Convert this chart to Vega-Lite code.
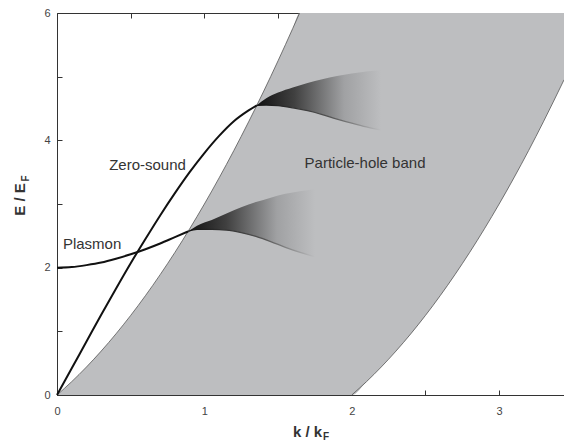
{
  "$schema": "https://vega.github.io/schema/vega-lite/v6.json",
  "width": 507,
  "height": 382,
  "autosize": "none",
  "padding": {"left": 57, "top": 13, "right": 0, "bottom": 50},
  "background": "white",
  "config": {
    "view": {"stroke": null},
    "font": "Liberation Sans",
    "axis": {
      "domainColor": "#333",
      "domainWidth": 1,
      "tickColor": "#333",
      "tickWidth": 1,
      "labelColor": "#444",
      "labelFontSize": 11,
      "labelFont": "Liberation Sans",
      "titleFont": "Liberation Sans",
      "titleColor": "#333",
      "titleFontSize": 15,
      "titleFontWeight": "bold",
      "grid": false,
      "zindex": 1
    }
  },
  "datasets": {
    "band": [
      {"k": 0, "hi": 0, "lo": 0},
      {"k": 0.1, "hi": 0.21, "lo": 0},
      {"k": 0.2, "hi": 0.44, "lo": 0},
      {"k": 0.3, "hi": 0.69, "lo": 0},
      {"k": 0.4, "hi": 0.96, "lo": 0},
      {"k": 0.5, "hi": 1.25, "lo": 0},
      {"k": 0.6, "hi": 1.56, "lo": 0},
      {"k": 0.7, "hi": 1.89, "lo": 0},
      {"k": 0.8, "hi": 2.24, "lo": 0},
      {"k": 0.9, "hi": 2.61, "lo": 0},
      {"k": 1.0, "hi": 3.0, "lo": 0},
      {"k": 1.1, "hi": 3.41, "lo": 0},
      {"k": 1.2, "hi": 3.84, "lo": 0},
      {"k": 1.3, "hi": 4.29, "lo": 0},
      {"k": 1.4, "hi": 4.76, "lo": 0},
      {"k": 1.5, "hi": 5.25, "lo": 0},
      {"k": 1.6, "hi": 5.76, "lo": 0},
      {"k": 1.646, "hi": 6, "lo": 0},
      {"k": 2.0, "hi": 6, "lo": 0},
      {"k": 2.1, "hi": 6, "lo": 0.21},
      {"k": 2.2, "hi": 6, "lo": 0.44},
      {"k": 2.3, "hi": 6, "lo": 0.69},
      {"k": 2.4, "hi": 6, "lo": 0.96},
      {"k": 2.5, "hi": 6, "lo": 1.25},
      {"k": 2.6, "hi": 6, "lo": 1.56},
      {"k": 2.7, "hi": 6, "lo": 1.89},
      {"k": 2.8, "hi": 6, "lo": 2.24},
      {"k": 2.9, "hi": 6, "lo": 2.61},
      {"k": 3.0, "hi": 6, "lo": 3.0},
      {"k": 3.1, "hi": 6, "lo": 3.41},
      {"k": 3.2, "hi": 6, "lo": 3.84},
      {"k": 3.3, "hi": 6, "lo": 4.29},
      {"k": 3.44, "hi": 6, "lo": 4.95}
    ],
    "edges": [
      {"part": "upper", "k": 0, "E": 0},
      {"part": "upper", "k": 0.1, "E": 0.21},
      {"part": "upper", "k": 0.2, "E": 0.44},
      {"part": "upper", "k": 0.3, "E": 0.69},
      {"part": "upper", "k": 0.4, "E": 0.96},
      {"part": "upper", "k": 0.5, "E": 1.25},
      {"part": "upper", "k": 0.6, "E": 1.56},
      {"part": "upper", "k": 0.7, "E": 1.89},
      {"part": "upper", "k": 0.8, "E": 2.24},
      {"part": "upper", "k": 0.9, "E": 2.61},
      {"part": "upper", "k": 1.0, "E": 3.0},
      {"part": "upper", "k": 1.1, "E": 3.41},
      {"part": "upper", "k": 1.2, "E": 3.84},
      {"part": "upper", "k": 1.3, "E": 4.29},
      {"part": "upper", "k": 1.4, "E": 4.76},
      {"part": "upper", "k": 1.5, "E": 5.25},
      {"part": "upper", "k": 1.6, "E": 5.76},
      {"part": "upper", "k": 1.646, "E": 6},
      {"part": "lower", "k": 2.0, "E": 0},
      {"part": "lower", "k": 2.1, "E": 0.21},
      {"part": "lower", "k": 2.2, "E": 0.44},
      {"part": "lower", "k": 2.3, "E": 0.69},
      {"part": "lower", "k": 2.4, "E": 0.96},
      {"part": "lower", "k": 2.5, "E": 1.25},
      {"part": "lower", "k": 2.6, "E": 1.56},
      {"part": "lower", "k": 2.7, "E": 1.89},
      {"part": "lower", "k": 2.8, "E": 2.24},
      {"part": "lower", "k": 2.9, "E": 2.61},
      {"part": "lower", "k": 3.0, "E": 3.0},
      {"part": "lower", "k": 3.1, "E": 3.41},
      {"part": "lower", "k": 3.2, "E": 3.84},
      {"part": "lower", "k": 3.3, "E": 4.29},
      {"part": "lower", "k": 3.44, "E": 4.95}
    ],
    "fanU": [
      {"k": 1.356, "top": 4.55, "bot": 4.55},
      {"k": 1.42, "top": 4.66, "bot": 4.555},
      {"k": 1.5, "top": 4.75, "bot": 4.545},
      {"k": 1.6, "top": 4.83, "bot": 4.51},
      {"k": 1.7, "top": 4.9, "bot": 4.465},
      {"k": 1.8, "top": 4.96, "bot": 4.405},
      {"k": 1.9, "top": 5.01, "bot": 4.335},
      {"k": 2.0, "top": 5.05, "bot": 4.27},
      {"k": 2.1, "top": 5.08, "bot": 4.21},
      {"k": 2.2, "top": 5.1, "bot": 4.16}
    ],
    "fanL": [
      {"k": 0.891, "top": 2.57, "bot": 2.57},
      {"k": 0.95, "top": 2.66, "bot": 2.6},
      {"k": 1.05, "top": 2.75, "bot": 2.6},
      {"k": 1.15, "top": 2.85, "bot": 2.59},
      {"k": 1.25, "top": 2.95, "bot": 2.55},
      {"k": 1.35, "top": 3.03, "bot": 2.49},
      {"k": 1.45, "top": 3.1, "bot": 2.41},
      {"k": 1.55, "top": 3.16, "bot": 2.32},
      {"k": 1.65, "top": 3.2, "bot": 2.24},
      {"k": 1.75, "top": 3.23, "bot": 2.17}
    ],
    "modes": [
      {"mode": "zero", "k": 0, "E": 0},
      {"mode": "zero", "k": 0.1, "E": 0.42},
      {"mode": "zero", "k": 0.2, "E": 0.84},
      {"mode": "zero", "k": 0.3, "E": 1.26},
      {"mode": "zero", "k": 0.4, "E": 1.67},
      {"mode": "zero", "k": 0.5, "E": 2.07},
      {"mode": "zero", "k": 0.6, "E": 2.45},
      {"mode": "zero", "k": 0.7, "E": 2.82},
      {"mode": "zero", "k": 0.8, "E": 3.17},
      {"mode": "zero", "k": 0.9, "E": 3.5},
      {"mode": "zero", "k": 1.0, "E": 3.8},
      {"mode": "zero", "k": 1.1, "E": 4.07},
      {"mode": "zero", "k": 1.2, "E": 4.3},
      {"mode": "zero", "k": 1.3, "E": 4.47},
      {"mode": "zero", "k": 1.356, "E": 4.55},
      {"mode": "plasmon", "k": 0, "E": 2.0},
      {"mode": "plasmon", "k": 0.1, "E": 2.01},
      {"mode": "plasmon", "k": 0.2, "E": 2.04},
      {"mode": "plasmon", "k": 0.3, "E": 2.08},
      {"mode": "plasmon", "k": 0.4, "E": 2.14},
      {"mode": "plasmon", "k": 0.5, "E": 2.21},
      {"mode": "plasmon", "k": 0.6, "E": 2.29},
      {"mode": "plasmon", "k": 0.7, "E": 2.38},
      {"mode": "plasmon", "k": 0.8, "E": 2.48},
      {"mode": "plasmon", "k": 0.891, "E": 2.57}
    ],
    "labels": [
      {"text": "Zero-sound", "k": 0.614, "E": 3.62},
      {"text": "Plasmon", "k": 0.238, "E": 2.37},
      {"text": "Particle-hole band", "k": 2.09, "E": 3.64}
    ]
  },
  "layer": [
    {
      "data": {"name": "band"},
      "mark": {"type": "area", "color": "#bdbec0", "interpolate": "monotone"},
      "encoding": {
        "x": {
          "field": "k", "type": "quantitative",
          "scale": {"domain": [0, 3.44], "nice": false, "zero": false},
          "axis": {
            "title": "k / k",
            "titleBaseline": "middle",
            "titleY": 36,
            "titleX": 250,
            "values": [0, 0.5, 1, 1.5, 2, 2.5, 3],
            "labelExpr": "datum.value % 1 === 0 ? format(datum.value, 'd') : ''",
            "tickSize": -5,
            "labelPadding": 15,
            "labelFlush": false,
            "labelOverlap": false
          }
        },
        "y": {
          "field": "hi", "type": "quantitative",
          "scale": {"domain": [0, 6], "nice": false},
          "axis": {
            "title": "E / E",
            "titleAngle": 270,
            "titleBaseline": "middle",
            "titleAlign": "center",
            "titleX": -38,
            "titleY": 186,
            "values": [0, 1, 2, 3, 4, 5, 6],
            "labelExpr": "datum.value % 2 === 0 ? format(datum.value, 'd') : ''",
            "tickSize": -5,
            "labelPadding": 12,
            "labelFlush": false,
            "labelOverlap": false
          }
        },
        "y2": {"field": "lo"}
      }
    },
    {
      "data": {"name": "edges"},
      "mark": {"type": "line", "color": "#555", "strokeWidth": 0.8, "interpolate": "monotone"},
      "encoding": {
        "x": {
          "field": "k", "type": "quantitative",
          "axis": {
            "orient": "top",
            "title": null,
            "values": [0, 0.5, 1, 1.5, 2, 2.5, 3],
            "labels": false,
            "tickSize": -5
          }
        },
        "y": {"field": "E", "type": "quantitative", "axis": null},
        "detail": {"field": "part"}
      }
    },
    {
      "data": {"name": "fanU"},
      "mark": {
        "type": "area",
        "interpolate": "monotone",
        "color": {
          "gradient": "linear", "x1": 0, "y1": 0, "x2": 1, "y2": 0,
          "stops": [
            {"offset": 0, "color": "#111111"},
            {"offset": 0.3, "color": "#404040"},
            {"offset": 0.7, "color": "#a0a1a3"},
            {"offset": 1, "color": "#bdbec0"}
          ]
        }
      },
      "encoding": {
        "x": {"field": "k", "type": "quantitative", "axis": null},
        "y": {"field": "top", "type": "quantitative", "axis": null},
        "y2": {"field": "bot"}
      }
    },
    {
      "data": {"name": "fanU"},
      "mark": {
        "type": "line",
        "interpolate": "monotone",
        "strokeWidth": 1.3,
        "color": {
          "gradient": "linear", "x1": 0, "y1": 0, "x2": 1, "y2": 0,
          "stops": [
            {"offset": 0, "color": "#111111"},
            {"offset": 0.6, "color": "#555555"},
            {"offset": 1, "color": "#bdbec0"}
          ]
        }
      },
      "encoding": {
        "x": {"field": "k", "type": "quantitative", "axis": null},
        "y": {"field": "bot", "type": "quantitative", "axis": null}
      }
    },
    {
      "data": {"name": "fanL"},
      "mark": {
        "type": "area",
        "interpolate": "monotone",
        "color": {
          "gradient": "linear", "x1": 0, "y1": 0, "x2": 1, "y2": 0,
          "stops": [
            {"offset": 0, "color": "#111111"},
            {"offset": 0.3, "color": "#404040"},
            {"offset": 0.7, "color": "#a0a1a3"},
            {"offset": 1, "color": "#bdbec0"}
          ]
        }
      },
      "encoding": {
        "x": {"field": "k", "type": "quantitative", "axis": null},
        "y": {"field": "top", "type": "quantitative", "axis": null},
        "y2": {"field": "bot"}
      }
    },
    {
      "data": {"name": "fanL"},
      "mark": {
        "type": "line",
        "interpolate": "monotone",
        "strokeWidth": 1.3,
        "color": {
          "gradient": "linear", "x1": 0, "y1": 0, "x2": 1, "y2": 0,
          "stops": [
            {"offset": 0, "color": "#111111"},
            {"offset": 0.6, "color": "#555555"},
            {"offset": 1, "color": "#bdbec0"}
          ]
        }
      },
      "encoding": {
        "x": {"field": "k", "type": "quantitative", "axis": null},
        "y": {"field": "bot", "type": "quantitative", "axis": null}
      }
    },
    {
      "data": {"name": "modes"},
      "mark": {"type": "line", "color": "#111", "strokeWidth": 2, "interpolate": "monotone"},
      "encoding": {
        "x": {"field": "k", "type": "quantitative", "axis": null},
        "y": {"field": "E", "type": "quantitative", "axis": null},
        "detail": {"field": "mode"}
      }
    },
    {
      "data": {"name": "labels"},
      "mark": {"type": "text", "fontSize": 15, "color": "#333", "font": "Liberation Sans", "baseline": "middle", "align": "center"},
      "encoding": {
        "x": {"field": "k", "type": "quantitative", "axis": null},
        "y": {"field": "E", "type": "quantitative", "axis": null},
        "text": {"field": "text"}
      }
    },
    {
      "data": {"values": [{"t": "F", "k": -0.213, "E": 3.4}]},
      "mark": {"type": "text", "fontSize": 10, "fontWeight": "bold", "color": "#333", "font": "Liberation Sans", "angle": 270, "baseline": "middle", "align": "center"},
      "encoding": {
        "x": {"field": "k", "type": "quantitative", "axis": null},
        "y": {"field": "E", "type": "quantitative", "axis": null},
        "text": {"field": "t"}
      }
    },
    {
      "data": {"values": [{"t": "F", "k": 1.826, "E": -0.66}]},
      "mark": {"type": "text", "fontSize": 10, "fontWeight": "bold", "color": "#333", "font": "Liberation Sans", "baseline": "middle", "align": "center"},
      "encoding": {
        "x": {"field": "k", "type": "quantitative", "axis": null},
        "y": {"field": "E", "type": "quantitative", "axis": null},
        "text": {"field": "t"}
      }
    }
  ],
  "resolve": {"axis": {"x": "independent", "y": "independent"}}
}
